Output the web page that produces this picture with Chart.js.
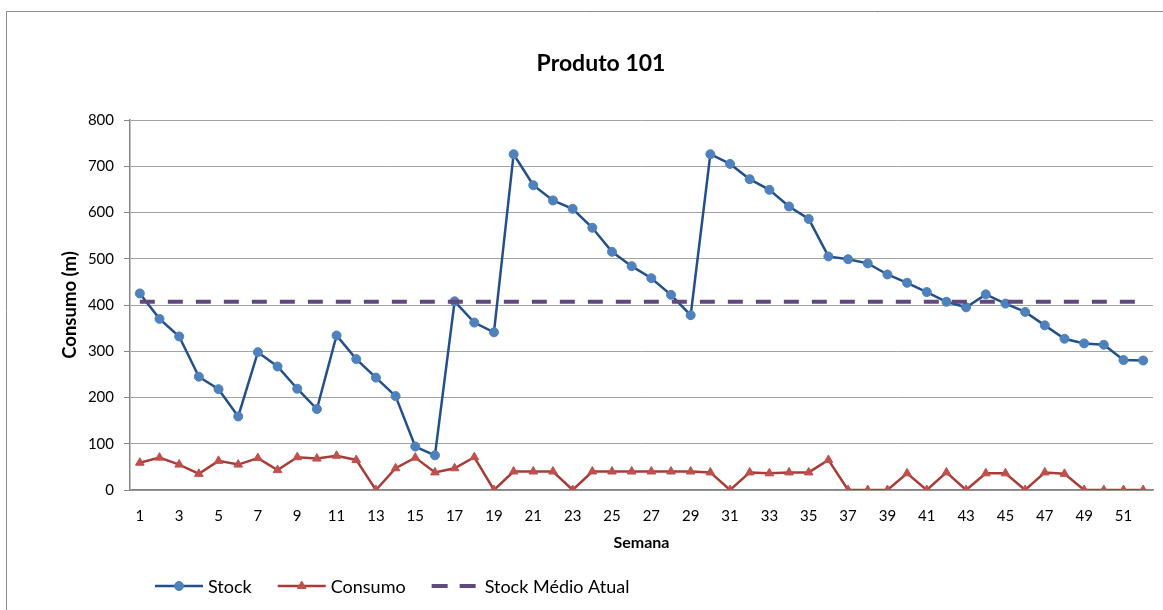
<!DOCTYPE html>
<html lang="pt">
<head>
<meta charset="utf-8">
<title>Produto 101</title>
<script src="https://cdn.jsdelivr.net/npm/chart.js@4/dist/chart.umd.min.js"></script>
<style>
  html, body { margin: 0; padding: 0; background: #ffffff; }
  #wrap { width: 1163px; height: 610px; position: relative; }
</style>
</head>
<body>
<div id="wrap"><canvas id="grafico" width="1163" height="610"></canvas></div>
<script>
// Semanas do ano (eixo das categorias)
const semanas = [1, 2, 3, 4, 5, 6, 7, 8, 9, 10, 11, 12, 13, 14, 15, 16, 17, 18, 19, 20,
  21, 22, 23, 24, 25, 26, 27, 28, 29, 30, 31, 32, 33, 34, 35, 36, 37, 38, 39, 40,
  41, 42, 43, 44, 45, 46, 47, 48, 49, 50, 51, 52];

// Stock semanal (m)
const stock = [425, 370, 332, 245, 218, 159, 298, 267, 219, 175, 334, 283, 243, 203, 94, 75,
  408, 362, 341, 726, 659, 626, 608, 567, 515, 484, 458, 422, 378, 726, 705, 672,
  649, 613, 586, 505, 499, 490, 466, 448, 428, 407, 395, 423, 403, 385, 356, 327,
  317, 314, 281, 280];

// Consumo semanal (m)
const consumo = [59, 70, 55, 35, 63, 55, 69, 43, 71, 68, 74, 65, 0, 47, 70, 38,
  47, 71, 0, 40, 40, 40, 0, 40, 40, 40, 40, 40, 40, 38, 0, 38,
  36, 38, 38, 65, 0, 0, 0, 36, 0, 38, 0, 36, 36, 0, 38, 35,
  0, 0, 0, 0];

// Stock médio atual (m), linha de referência
const stockMedioAtual = 407;

// Marcas do eixo vertical
const yTicks = { min: 0, max: 800, step: 100 };

const titulo = 'Produto 101';
const FONT = 'Lato, "Open Sans", "Liberation Sans", sans-serif';

// Moldura do gráfico, fundo branco e título
const moldura = {
  id: 'moldura',
  beforeDraw(chart) {
    const ctx = chart.ctx;
    ctx.save();
    ctx.fillStyle = '#ffffff';
    ctx.fillRect(0, 0, chart.width, chart.height);
    ctx.strokeStyle = '#8c8c8c';
    ctx.lineWidth = 1;
    ctx.beginPath();
    ctx.moveTo(6.5, chart.height + 2);
    ctx.lineTo(6.5, 11.5);
    ctx.lineTo(chart.width + 2, 11.5);
    ctx.stroke();
    ctx.fillStyle = '#000000';
    ctx.font = 'bold 23px ' + FONT;
    ctx.textAlign = 'center';
    ctx.textBaseline = 'middle';
    ctx.fillText(titulo, 601, 64);
    ctx.restore();
  }
};

// Legenda ao estilo das séries (linha + marcador)
const legenda = {
  id: 'legenda',
  afterDraw(chart) {
    const ctx = chart.ctx;
    const y = 586;
    const amostra = 48;
    let x = 155;
    ctx.save();
    ctx.font = '18px ' + FONT;
    ctx.textBaseline = 'middle';
    ctx.textAlign = 'left';
    chart.data.datasets.forEach((ds) => {
      ctx.save();
      ctx.strokeStyle = ds.borderColor;
      ctx.lineWidth = ds.borderWidth;
      ctx.lineCap = 'butt';
      if (ds.borderDash) ctx.setLineDash(ds.legendDash || ds.borderDash);
      ctx.beginPath();
      ctx.moveTo(x, y);
      ctx.lineTo(x + amostra, y);
      ctx.stroke();
      ctx.restore();
      if (ds.pointRadius > 0) {
        ctx.save();
        ctx.fillStyle = ds.pointBackgroundColor;
        ctx.strokeStyle = ds.pointBorderColor;
        ctx.lineWidth = 1;
        Chart.helpers.drawPoint(ctx, {
          pointStyle: ds.pointStyle,
          rotation: 0,
          radius: ds.pointRadius,
          borderWidth: 1
        }, x + amostra / 2, y);
        ctx.restore();
      }
      ctx.fillStyle = '#000000';
      ctx.fillText(ds.label, x + amostra + 5, y + 1);
      x += amostra + 5 + ctx.measureText(ds.label).width + 26;
    });
    ctx.restore();
  }
};

new Chart(document.getElementById('grafico'), {
  type: 'line',
  data: {
    labels: semanas,
    datasets: [
      {
        label: 'Stock',
        data: stock,
        borderColor: '#23508a',
        borderWidth: 2.5,
        pointStyle: 'circle',
        pointRadius: 4.5,
        pointBackgroundColor: '#4f81bd',
        pointBorderColor: '#4f81bd',
        pointBorderWidth: 1,
        tension: 0,
        order: 2
      },
      {
        label: 'Consumo',
        data: consumo,
        borderColor: '#a83c39',
        borderWidth: 2.5,
        pointStyle: 'triangle',
        pointRadius: 5,
        pointBackgroundColor: '#c0504d',
        pointBorderColor: '#c0504d',
        pointBorderWidth: 1,
        tension: 0,
        order: 3
      },
      {
        label: 'Stock Médio Atual',
        data: semanas.map(() => stockMedioAtual),
        borderColor: '#604a7b',
        borderWidth: 4,
        borderDash: [15, 13],
        legendDash: [16, 12],
        borderCapStyle: 'butt',
        pointRadius: 0,
        tension: 0,
        order: 1
      }
    ]
  },
  options: {
    responsive: false,
    animation: false,
    devicePixelRatio: 1,
    layout: { padding: { left: 0, right: 10, top: 120, bottom: 0 } },
    plugins: {
      legend: { display: false },
      tooltip: { enabled: false },
      title: { display: false }
    },
    scales: {
      x: {
        type: 'category',
        offset: true,
        afterFit(scale) { scale.height = 120; },
        grid: { display: false, drawTicks: false },
        border: { display: true, color: '#868686', width: 1.5 },
        ticks: {
          autoSkip: false,
          maxRotation: 0,
          minRotation: 0,
          padding: 17,
          color: '#000000',
          font: { family: FONT, size: 15 },
          callback(value, index) {
            return index % 2 === 0 ? String(semanas[index]) : '';
          }
        },
        title: {
          display: true,
          text: 'Semana',
          color: '#000000',
          font: { family: FONT, size: 16, weight: 'bold' },
          padding: { top: 0, bottom: 57.4 }
        }
      },
      y: {
        min: yTicks.min,
        max: yTicks.max,
        afterFit(scale) { scale.width = 130; },
        grid: {
          color: '#a3a3a3',
          lineWidth: 1,
          drawTicks: true,
          tickLength: 6,
          tickColor: '#868686'
        },
        border: { display: true, color: '#868686', width: 1.5 },
        ticks: {
          stepSize: yTicks.step,
          padding: 10,
          color: '#000000',
          font: { family: FONT, size: 15 }
        },
        title: {
          display: true,
          text: 'Consumo (m)',
          color: '#000000',
          font: { family: FONT, size: 18.5, weight: 'bold' },
          padding: { top: 59, bottom: 0 }
        }
      }
    }
  },
  plugins: [moldura, legenda]
});
</script>
</body>
</html>
